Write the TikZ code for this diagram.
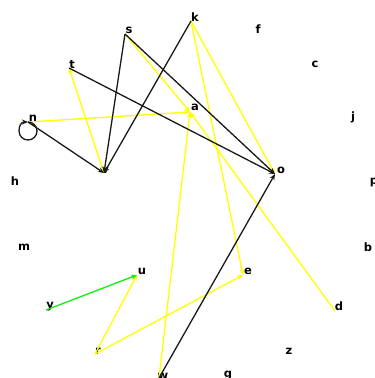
\documentclass[tikz,border=0pt]{standalone}
\usepackage{fontspec}
\setmainfont{DejaVu Sans}
\usetikzlibrary{arrows.meta}
\definecolor{ey}{RGB}{255,255,0}
\definecolor{eg}{RGB}{20,235,20}
\tikzset{
  lbl/.style={font=\fontsize{11.5}{13}\selectfont\bfseries, inner sep=0pt, text=black},
  edge/.style={line width=1.3pt, -{Stealth[length=6pt,width=5pt]}},
  blk/.style={edge, draw=black!90},
  yel/.style={edge, draw=ey},
  grn/.style={edge, draw=eg}
}
\begin{document}
\begin{tikzpicture}[x=1pt,y=-1pt]
\useasboundingbox (0,0) rectangle (375,378);
% vertices
\coordinate (s) at (125,34);
\coordinate (k) at (191,21);
\coordinate (t) at (69,68);
\coordinate (n) at (28,122);
\coordinate (a) at (190,112);
\coordinate (v) at (104,173);
\coordinate (o) at (275,174);
\coordinate (u) at (137,275);
\coordinate (e) at (243,275);
\coordinate (y) at (46,310);
\coordinate (d) at (335,311);
\coordinate (r) at (95,354);
\coordinate (w) at (159,378);
% labels
\node[lbl] (ls) at (129,30) {s};
\node[lbl] (lk) at (195,17) {k};
\node[lbl] (lf) at (258,29) {f};
\node[lbl] (lt) at (72,64) {t};
\node[lbl] (lc) at (315,64) {c};
\node[lbl] (ln) at (33,118) {n};
\node[lbl] (la) at (195,107) {a};
\node[lbl] (lj) at (353,117) {j};
\node[lbl] (lv) at (105,170) {v};
\node[lbl] (lo) at (281,170) {o};
\node[lbl] (lh) at (15,181) {h};
\node[lbl] (lp) at (374,182) {p};
\node[lbl] (lm) at (24,247) {m};
\node[lbl] (lb) at (368,247) {b};
\node[lbl] (lu) at (142,271) {u};
\node[lbl] (le) at (248,271) {e};
\node[lbl] (ly) at (50,307) {y};
\node[lbl] (ld) at (339,306) {d};
\node[lbl] (lr) at (98,351) {r};
\node[lbl] (lz) at (289,351) {z};
\node[lbl] (lw) at (163,376) {w};
\node[lbl] (lg) at (228,376) {g};
% yellow edges
\draw[yel] (v) -- (t);
\draw[yel] (n) -- (a);
\draw[yel] (s) -- (a);
\draw[yel] (d) -- (a);
\draw[yel] (w) -- (a);
\draw[yel] (k) -- (o);
\draw[yel] (k) -- (e);
\draw[yel] (r) -- (e);
\draw[yel] (r) -- (u);
% black edges
\draw[blk] (n) -- (v);
\draw[blk] (s) -- (v);
\draw[blk] (k) -- (v);
\draw[blk] (t) -- (o);
\draw[blk] (s) -- (o);
\draw[blk] (w) -- (o);
\draw[blk] (n) .. controls (33,122) and (37,126) .. (37,131)
  .. controls (37,136) and (33,140) .. (28,140)
  .. controls (23,140) and (19,136) .. (19,131)
  .. controls (19,126) and (21,122) .. (n);
% green edge
\draw[grn] (y) -- (u);
\end{tikzpicture}
\end{document}
